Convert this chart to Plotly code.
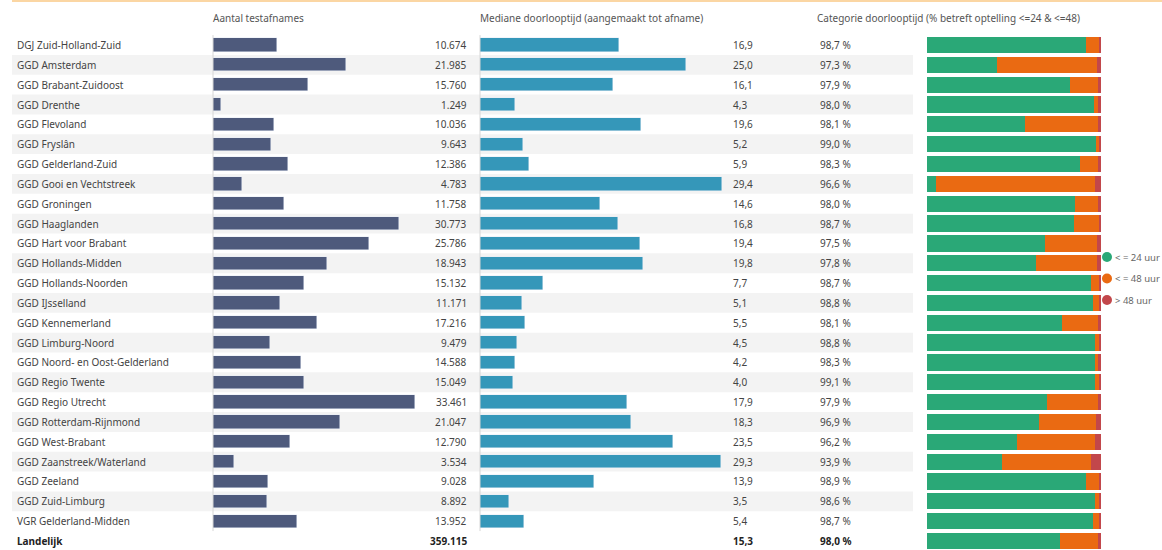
import plotly.graph_objects as go

W, H = 1162, 550

regions = [
    "DGJ Zuid-Holland-Zuid", "GGD Amsterdam", "GGD Brabant-Zuidoost", "GGD Drenthe",
    "GGD Flevoland", "GGD Fryslân", "GGD Gelderland-Zuid", "GGD Gooi en Vechtstreek",
    "GGD Groningen", "GGD Haaglanden", "GGD Hart voor Brabant", "GGD Hollands-Midden",
    "GGD Hollands-Noorden", "GGD IJsselland", "GGD Kennemerland", "GGD Limburg-Noord",
    "GGD Noord- en Oost-Gelderland", "GGD Regio Twente", "GGD Regio Utrecht",
    "GGD Rotterdam-Rijnmond", "GGD West-Brabant", "GGD Zaanstreek/Waterland",
    "GGD Zeeland", "GGD Zuid-Limburg", "VGR Gelderland-Midden",
]
total_label = "Landelijk"

testafnames = [10674, 21985, 15760, 1249, 10036, 9643, 12386, 4783, 11758, 30773,
               25786, 18943, 15132, 11171, 17216, 9479, 14588, 15049, 33461, 21047,
               12790, 3534, 9028, 8892, 13952]
testafnames_total = 359115

mediaan = [16.9, 25.0, 16.1, 4.3, 19.6, 5.2, 5.9, 29.4, 14.6, 16.8, 19.4, 19.8, 7.7,
           5.1, 5.5, 4.5, 4.2, 4.0, 17.9, 18.3, 23.5, 29.3, 13.9, 3.5, 5.4]
mediaan_total = 15.3

# % within 48 hours (<=24 plus <=48), incl. total row last
pct_48 = [98.7, 97.3, 97.9, 98.0, 98.1, 99.0, 98.3, 96.6, 98.0, 98.7, 97.5, 97.8, 98.7,
          98.8, 98.1, 98.8, 98.3, 99.1, 97.9, 96.9, 96.2, 93.9, 98.9, 98.6, 98.7, 98.0]
# % within 24 hours, incl. total row last
pct_24 = [91.2, 40.1, 82.1, 95.8, 56.3, 96.8, 88.0, 5.3, 84.7, 84.5, 67.7, 62.8, 93.9,
          95.2, 77.7, 96.2, 96.2, 96.2, 68.9, 64.5, 51.7, 43.3, 91.0, 96.6, 95.4, 76.5]

cats = regions + [total_label]
pct_24_48 = [round(b - a, 1) for a, b in zip(pct_24, pct_48)]
pct_gt48 = [round(100 - b, 1) for b in pct_48]

series_names = ["< = 24 uur", "< = 48 uur", "&gt; 48 uur"]
series_colors = ["#2aa877", "#ea6a12", "#c2474b"]

FONT = "Noto Sans"
FS = 10
TXT = "#444444"

# geometry (pixels)
row0_y, row_h = 45, 19.84
px = lambda v: v / W
y_top = -row0_y / row_h
y_bot = (H - row0_y) / row_h

fig = go.Figure()

fig.add_trace(go.Bar(y=regions, x=testafnames, orientation="h", xaxis="x", yaxis="y",
                     marker_color="#4e5a7c", width=0.67, showlegend=False,
                     name="Aantal testafnames"))
fig.add_trace(go.Bar(y=regions, x=mediaan, orientation="h", xaxis="x2", yaxis="y",
                     marker_color="#3597b9", width=0.67, showlegend=False,
                     name="Mediane doorlooptijd"))
for vals, nm, col in zip([pct_24, pct_24_48, pct_gt48], series_names, series_colors):
    fig.add_trace(go.Bar(y=cats, x=vals, orientation="h", xaxis="x3", yaxis="y",
                         marker_color=col, marker_line_width=0, width=0.82,
                         showlegend=False, name=nm))

shapes = []
# top orange line
shapes.append(dict(type="rect", xref="paper", yref="paper", x0=px(12), x1=1,
                   y0=1 - 2 / H, y1=1, fillcolor="#fbd6a3", line_width=0))
# row stripes
for i in range(1, len(regions), 2):
    shapes.append(dict(type="rect", xref="paper", yref="y", x0=px(12), x1=px(913),
                       y0=i - 0.5, y1=i + 0.5, fillcolor="#f3f3f3", line_width=0,
                       layer="below"))
# axis baselines
for xp in (213, 480):
    shapes.append(dict(type="line", xref="paper", yref="y", x0=px(xp), x1=px(xp),
                       y0=-0.5, y1=len(regions) - 0.5,
                       line=dict(color="#d6d6d6", width=1), layer="above"))

ann = []
def add_text(x, y, text, anchor="left", yref="y", color=TXT, size=FS):
    ann.append(dict(x=px(x), xref="paper", y=y, yref=yref, text=text, showarrow=False,
                    xanchor=anchor, yanchor="middle",
                    font=dict(family=FONT, size=size, color=color)))

def fmt_int(v):
    return f"{v:,}".replace(",", ".")

def fmt_dec(v):
    return f"{v:.1f}".replace(".", ",")

for i, r in enumerate(regions):
    add_text(15, r, r)
    add_text(469, r, fmt_int(testafnames[i]), anchor="right")
    add_text(731, r, fmt_dec(mediaan[i]))
    add_text(818, r, fmt_dec(pct_48[i]) + " %")

BOLD = "#222222"
add_text(15, total_label, "<b>Landelijk</b>", color=BOLD)
add_text(469, total_label, "<b>" + fmt_int(testafnames_total) + "</b>", anchor="right", color=BOLD)
add_text(731, total_label, "<b>" + fmt_dec(mediaan_total) + "</b>", color=BOLD)
add_text(818, total_label, "<b>" + fmt_dec(pct_48[-1]) + " %</b>", color=BOLD)

# headers
hy = 1 - 18 / H
add_text(211, hy, "Aantal testafnames", yref="paper", color="#555555")
add_text(478, hy, "Mediane doorlooptijd (aangemaakt tot afname)", yref="paper", color="#555555")
add_text(815, hy, "Categorie doorlooptijd (% betreft optelling &lt;=24 &amp; &lt;=48)",
         yref="paper", color="#555555")

# legend
for k, (nm, col) in enumerate(zip(series_names, series_colors)):
    ly = 1 - (257 + 21.5 * k) / H
    shapes.append(dict(type="circle", xref="paper", yref="paper", xsizemode="pixel",
                       ysizemode="pixel", xanchor=px(1107), yanchor=ly,
                       x0=-5, x1=5, y0=-5, y1=5, fillcolor=col, line_width=0))
    add_text(1113, ly, nm, yref="paper", color="#666666", size=9.5)

hidden = dict(showgrid=False, zeroline=False, showticklabels=False, showline=False,
              fixedrange=True)
fig.update_layout(
    width=W, height=H, margin=dict(l=0, r=0, t=0, b=0),
    paper_bgcolor="white", plot_bgcolor="white",
    barmode="stack", bargap=0,
    xaxis=dict(domain=[px(213), px(415)], range=[0, max(testafnames)], anchor="y", **hidden),
    xaxis2=dict(domain=[px(480), px(722)], range=[0, max(mediaan)], anchor="y", **hidden),
    xaxis3=dict(domain=[px(927), px(1101.3)], range=[0, 100], anchor="y", **hidden),
    yaxis=dict(type="category", categoryorder="array", categoryarray=cats,
               range=[y_bot, y_top], **hidden),
    shapes=shapes, annotations=ann, showlegend=False,
)

fig.write_html("out.html", config={"displayModeBar": False},
               post_script="document.body.style.margin='0';document.body.style.overflow='hidden';")
